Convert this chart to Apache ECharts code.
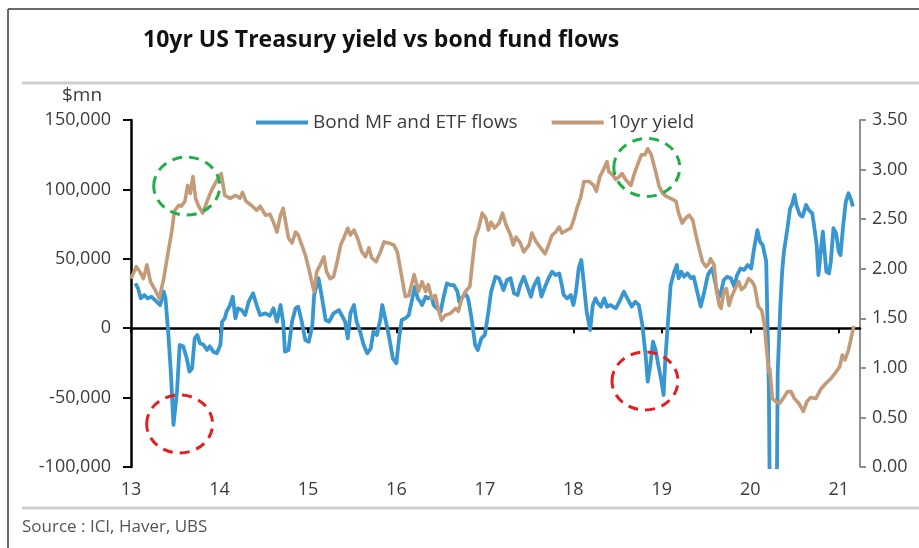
<!DOCTYPE html>
<html>
<head>
<meta charset="utf-8">
<script src="https://cdn.jsdelivr.net/npm/echarts@6/dist/echarts.min.js"></script>
<style>
  html, body { margin: 0; padding: 0; background: #ffffff; }
  #chart { width: 919px; height: 548px; }
</style>
</head>
<body>
<div id="chart"></div>
<script>
// Weekly-ish bond mutual fund + ETF flows ($mn, rolling) and the 10yr UST yield (%)
const flowDates = [
  2013.05, 2013.08, 2013.11, 2013.15, 2013.19, 2013.23, 2013.29, 2013.33, 2013.37, 2013.39,
  2013.42, 2013.45, 2013.48, 2013.52, 2013.55, 2013.59, 2013.63, 2013.66, 2013.69, 2013.72,
  2013.75, 2013.78, 2013.82, 2013.86, 2013.89, 2013.93, 2013.97, 2014.01, 2014.03, 2014.06,
  2014.08, 2014.12, 2014.15, 2014.18, 2014.21, 2014.25, 2014.29, 2014.33, 2014.38, 2014.42,
  2014.46, 2014.52, 2014.57, 2014.61, 2014.65, 2014.69, 2014.72, 2014.74, 2014.78, 2014.82,
  2014.86, 2014.89, 2014.93, 2014.97, 2015.01, 2015.05, 2015.07, 2015.12, 2015.16, 2015.20,
  2015.24, 2015.29, 2015.35, 2015.38, 2015.42, 2015.45, 2015.48, 2015.52, 2015.55, 2015.59,
  2015.63, 2015.67, 2015.71, 2015.74, 2015.78, 2015.82, 2015.84, 2015.89, 2015.92, 2015.96,
  2016.00, 2016.03, 2016.06, 2016.10, 2016.14, 2016.18, 2016.21, 2016.24, 2016.27, 2016.29,
  2016.33, 2016.36, 2016.40, 2016.42, 2016.46, 2016.50, 2016.53, 2016.57, 2016.61, 2016.65,
  2016.69, 2016.71, 2016.75, 2016.78, 2016.81, 2016.84, 2016.86, 2016.89, 2016.92, 2016.96,
  2017.00, 2017.04, 2017.07, 2017.12, 2017.16, 2017.19, 2017.21, 2017.25, 2017.29, 2017.33,
  2017.37, 2017.40, 2017.44, 2017.48, 2017.52, 2017.55, 2017.60, 2017.64, 2017.68, 2017.72,
  2017.76, 2017.80, 2017.84, 2017.87, 2017.89, 2017.93, 2017.97, 2018.00, 2018.03, 2018.06,
  2018.09, 2018.12, 2018.15, 2018.19, 2018.22, 2018.25, 2018.28, 2018.31, 2018.35, 2018.38,
  2018.42, 2018.48, 2018.52, 2018.57, 2018.61, 2018.66, 2018.70, 2018.74, 2018.78, 2018.82,
  2018.84, 2018.87, 2018.90, 2018.93, 2018.96, 2018.99, 2019.02, 2019.04, 2019.07, 2019.10,
  2019.14, 2019.17, 2019.19, 2019.22, 2019.25, 2019.29, 2019.33, 2019.36, 2019.40, 2019.44,
  2019.48, 2019.52, 2019.55, 2019.57, 2019.61, 2019.64, 2019.67, 2019.70, 2019.74, 2019.78,
  2019.82, 2019.85, 2019.89, 2019.93, 2019.97, 2020.01, 2020.04, 2020.08, 2020.11, 2020.14,
  2020.18, 2020.19, 2020.21, 2020.23, 2020.29, 2020.31, 2020.34, 2020.36, 2020.38, 2020.42,
  2020.45, 2020.47, 2020.50, 2020.52, 2020.56, 2020.59, 2020.63, 2020.66, 2020.70, 2020.72,
  2020.75, 2020.77, 2020.80, 2020.82, 2020.86, 2020.89, 2020.91, 2020.94, 2020.97, 2021.00,
  2021.02, 2021.05, 2021.08, 2021.11, 2021.14, 2021.16
];
const flowValues = [
  32300, 28700, 21500, 23900, 21500, 22700, 19100, 16700, 26300, 21500,
  -2500, -31300, -69700, -45700, -12100, -13000, -21700, -31300, -29000, -7300,
  -4900, -10900, -12000, -15700, -13000, -16900, -18000, -12100, 4700, 7100,
  11900, 16700, 22700, 7100, 14300, 13100, 9500, 19100, 25100, 16700,
  9500, 10700, 9000, 14300, 4700, 16700, 4700, -16900, -15700, 4700,
  14300, 15500, 4700, -8500, -9700, 2300, 23900, 36000, 21500, 5900,
  4700, 10700, 13100, 9500, 4700, -7300, 10700, 16700, 4700, -2500,
  -12100, -18100, -14500, -2500, -4900, 7100, 16700, 2300, -7300, -21700,
  -25300, -7300, 5900, 7100, 9500, 21500, 29900, 21500, 19100, 16700,
  22700, 21500, 22700, 16700, 14300, 11900, 21500, 32300, 31100, 31100,
  26300, 19100, 22700, 25100, 21500, 10700, 2300, -12100, -15700, -7300,
  -4900, 11900, 26300, 37100, 36000, 31100, 27500, 34700, 36000, 25100,
  23900, 31100, 37100, 29900, 22700, 29900, 36000, 22700, 29900, 36000,
  40700, 38300, 39500, 31100, 24000, 21500, 23900, 16700, 26300, 43100,
  49100, 31100, 11900, -1300, 16700, 21500, 17900, 15500, 21500, 15500,
  16700, 14300, 19100, 26300, 21500, 15500, 19100, 16700, 2300, -21700,
  -38500, -26500, -9700, -15700, -26500, -36100, -48100, -21700, 4700, 31100,
  40700, 45500, 36000, 40700, 37100, 39500, 36000, 37100, 26300, 15500,
  26300, 38300, 41500, 43100, 31100, 21500, 26300, 34700, 37100, 36000,
  29900, 38300, 43100, 42000, 45500, 43100, 56300, 70700, 62300, 60000,
  47900, 16700, -43300, -200000, -200000, -31300, 16700, 40700, 55100, 72000,
  86400, 88800, 96000, 88800, 81600, 80400, 88800, 85200, 82800, 74400,
  60000, 38300, 57500, 69500, 40700, 39500, 47900, 72000, 68300, 55100,
  52700, 74400, 91200, 97200, 92400, 87600
];

const yieldDates = [
  2013.00, 2013.06, 2013.10, 2013.14, 2013.18, 2013.22, 2013.27, 2013.32, 2013.37, 2013.42,
  2013.46, 2013.49, 2013.54, 2013.57, 2013.61, 2013.64, 2013.67, 2013.70, 2013.73, 2013.76,
  2013.81, 2013.86, 2013.91, 2013.97, 2014.02, 2014.06, 2014.12, 2014.18, 2014.23, 2014.26,
  2014.30, 2014.36, 2014.42, 2014.46, 2014.52, 2014.57, 2014.61, 2014.65, 2014.69, 2014.72,
  2014.74, 2014.78, 2014.82, 2014.86, 2014.89, 2014.93, 2014.97, 2015.01, 2015.05, 2015.07,
  2015.10, 2015.14, 2015.18, 2015.21, 2015.25, 2015.29, 2015.33, 2015.37, 2015.41, 2015.45,
  2015.48, 2015.52, 2015.56, 2015.61, 2015.65, 2015.69, 2015.72, 2015.77, 2015.82, 2015.86,
  2015.91, 2015.97, 2016.01, 2016.05, 2016.10, 2016.14, 2016.18, 2016.20, 2016.23, 2016.25,
  2016.29, 2016.33, 2016.36, 2016.40, 2016.44, 2016.48, 2016.51, 2016.55, 2016.61, 2016.67,
  2016.70, 2016.74, 2016.78, 2016.83, 2016.86, 2016.89, 2016.93, 2016.97, 2017.01, 2017.04,
  2017.07, 2017.11, 2017.16, 2017.20, 2017.24, 2017.29, 2017.32, 2017.35, 2017.40, 2017.44,
  2017.50, 2017.53, 2017.58, 2017.63, 2017.68, 2017.72, 2017.76, 2017.80, 2017.84, 2017.87,
  2017.91, 2017.97, 2018.01, 2018.04, 2018.08, 2018.12, 2018.18, 2018.23, 2018.26, 2018.30,
  2018.34, 2018.38, 2018.40, 2018.44, 2018.48, 2018.52, 2018.55, 2018.59, 2018.65, 2018.69,
  2018.73, 2018.77, 2018.81, 2018.84, 2018.88, 2018.93, 2018.97, 2019.01, 2019.05, 2019.10,
  2019.16, 2019.19, 2019.23, 2019.27, 2019.31, 2019.35, 2019.38, 2019.42, 2019.46, 2019.50,
  2019.53, 2019.55, 2019.59, 2019.62, 2019.65, 2019.67, 2019.70, 2019.73, 2019.76, 2019.79,
  2019.83, 2019.87, 2019.90, 2019.94, 2019.98, 2020.02, 2020.05, 2020.09, 2020.13, 2020.16,
  2020.18, 2020.21, 2020.22, 2020.25, 2020.29, 2020.33, 2020.37, 2020.42, 2020.46, 2020.50,
  2020.55, 2020.60, 2020.64, 2020.68, 2020.74, 2020.80, 2020.85, 2020.91, 2020.97, 2021.01,
  2021.04, 2021.07, 2021.11, 2021.14, 2021.17
];
const yieldValues = [
  1.90, 2.02, 1.97, 1.90, 2.04, 1.87, 1.79, 1.70, 1.90, 2.17,
  2.37, 2.58, 2.64, 2.63, 2.68, 2.84, 2.76, 2.93, 2.71, 2.64,
  2.56, 2.68, 2.79, 2.89, 2.96, 2.74, 2.71, 2.74, 2.71, 2.77,
  2.68, 2.64, 2.59, 2.63, 2.54, 2.55, 2.47, 2.37, 2.54, 2.61,
  2.51, 2.31, 2.26, 2.37, 2.34, 2.24, 2.14, 2.00, 1.84, 1.77,
  1.97, 2.04, 2.12, 1.97, 1.90, 1.92, 2.07, 2.24, 2.32, 2.41,
  2.34, 2.39, 2.31, 2.17, 2.12, 2.21, 2.11, 2.07, 2.17, 2.27,
  2.26, 2.24, 2.17, 1.97, 1.72, 1.73, 1.87, 1.94, 1.84, 1.77,
  1.87, 1.77, 1.84, 1.70, 1.73, 1.57, 1.48, 1.53, 1.55, 1.60,
  1.57, 1.70, 1.77, 1.82, 2.07, 2.31, 2.41, 2.56, 2.51, 2.39,
  2.47, 2.41, 2.46, 2.56, 2.44, 2.34, 2.24, 2.32, 2.26, 2.17,
  2.24, 2.36, 2.27, 2.21, 2.15, 2.24, 2.34, 2.37, 2.42, 2.36,
  2.38, 2.41, 2.51, 2.61, 2.71, 2.88, 2.88, 2.84, 2.78, 2.93,
  3.00, 3.08, 2.98, 2.95, 2.90, 2.93, 2.96, 2.90, 2.84, 2.96,
  3.06, 3.15, 3.15, 3.21, 3.15, 2.98, 2.83, 2.76, 2.73, 2.71,
  2.68, 2.56, 2.46, 2.51, 2.54, 2.49, 2.36, 2.21, 2.07, 2.02,
  2.05, 2.10, 2.04, 1.77, 1.63, 1.60, 1.77, 1.80, 1.63, 1.72,
  1.80, 1.87, 1.79, 1.82, 1.90, 1.87, 1.82, 1.62, 1.58, 1.43,
  1.23, 0.96, 0.99, 0.69, 0.66, 0.64, 0.69, 0.76, 0.76, 0.69,
  0.64, 0.56, 0.66, 0.70, 0.69, 0.79, 0.84, 0.89, 0.96, 1.01,
  1.13, 1.08, 1.18, 1.30, 1.42
];

// Year tick labels (two-digit years)
const yearLabels = ['13', '14', '15', '16', '17', '18', '19', '20', '21'];
const yearTicks = yearLabels.map((_, i) => 2013 + i);

// Highlighted episodes (year, $mn on the flows axis)
const greenRings = [[2013.63, 102400], [2018.83, 115800]];
const redRings = [[2013.55, -69000], [2018.81, -38000]];

const FONT = '"Open Sans", "Noto Sans", sans-serif';
const TEXT = '#3c3c3c';
const BLUE = '#3896d0';
const TAN = '#c39b79';

const chart = echarts.init(document.getElementById('chart'), null, { renderer: 'canvas' });

const option = {
  backgroundColor: '#ffffff',
  animation: false,
  textStyle: { fontFamily: FONT },
  title: {
    text: '10yr US Treasury yield vs bond fund flows',
    left: 138,
    top: 24,
    textStyle: { fontFamily: FONT, fontSize: 23, fontWeight: 'bold', color: '#111111' }
  },
  legend: {
    left: 251,
    top: 108,
    icon: 'rect',
    itemWidth: 52,
    itemHeight: 4,
    itemGap: 34,
    textStyle: { fontFamily: FONT, fontSize: 19, color: TEXT },
    data: ['Bond MF and ETF flows', '10yr yield']
  },
  grid: { left: 131, right: 59, top: 120, bottom: 81, containLabel: false },
  xAxis: [
    {
      type: 'value',
      min: 2013,
      max: 2021.24,
      splitLine: { show: false },
      axisLine: { show: true, onZero: true, onZeroAxisIndex: 0, lineStyle: { color: '#000000', width: 2.5 } },
      axisTick: { show: true, length: 5, inside: false, customValues: yearTicks, lineStyle: { color: '#000000', width: 2 } },
      axisLabel: { show: false }
    },
    {
      type: 'value',
      min: 2013,
      max: 2021.24,
      position: 'bottom',
      splitLine: { show: false },
      axisLine: { show: false, onZero: false },
      axisTick: { show: false },
      axisLabel: {
        show: true,
        customValues: yearTicks,
        margin: 14,
        fontFamily: FONT,
        fontSize: 18,
        color: TEXT,
        formatter: v => yearLabels[Math.round(v) - 2013]
      }
    }
  ],
  yAxis: [
    {
      type: 'value',
      min: -100000,
      max: 150000,
      interval: 50000,
      position: 'left',
      splitLine: { show: false },
      axisLine: { show: true, onZero: false, lineStyle: { color: '#000000', width: 2.5 } },
      axisTick: { show: true, length: 8, lineStyle: { color: '#000000', width: 2 } },
      axisLabel: {
        margin: 20,
        fontFamily: FONT,
        fontSize: 18,
        color: TEXT,
        formatter: v => v.toLocaleString('en-US')
      }
    },
    {
      type: 'value',
      min: 0,
      max: 3.5,
      interval: 0.5,
      position: 'right',
      splitLine: { show: false },
      axisLine: { show: true, onZero: false, lineStyle: { color: '#8f8f8f', width: 2 } },
      axisTick: { show: true, length: 6, lineStyle: { color: '#8f8f8f', width: 2 } },
      axisLabel: {
        margin: 12,
        fontFamily: FONT,
        fontSize: 18,
        color: TEXT,
        formatter: v => v.toFixed(2)
      }
    }
  ],
  series: [
    {
      name: 'Bond MF and ETF flows',
      type: 'line',
      xAxisIndex: 0,
      yAxisIndex: 0,
      showSymbol: false,
      clip: true,
      color: BLUE,
      lineStyle: { color: BLUE, width: 3.8, join: 'round' },
      data: flowDates.map((d, i) => [d, flowValues[i]])
    },
    {
      name: '10yr yield',
      type: 'line',
      xAxisIndex: 0,
      yAxisIndex: 1,
      showSymbol: false,
      clip: true,
      color: TAN,
      lineStyle: { color: TAN, width: 3.6, join: 'round' },
      data: yieldDates.map((d, i) => [d, yieldValues[i]])
    }
  ],
  graphic: [
    // outer frame (top and left edges)
    { type: 'line', shape: { x1: 8, y1: 9, x2: 919, y2: 9 }, style: { stroke: '#3a3a3a', lineWidth: 1.5 } },
    { type: 'line', shape: { x1: 8, y1: 9, x2: 8, y2: 548 }, style: { stroke: '#3a3a3a', lineWidth: 1.5 } },
    // grey rules above and below the plot
    { type: 'line', shape: { x1: 22, y1: 83, x2: 919, y2: 83 }, style: { stroke: '#cfcfcf', lineWidth: 3 } },
    { type: 'line', shape: { x1: 22, y1: 508, x2: 919, y2: 508 }, style: { stroke: '#cfcfcf', lineWidth: 3 } },
    // unit label for the left axis
    { type: 'text', left: 62, top: 86, style: { text: '$mn', font: '19px ' + FONT, fill: TEXT } },
    // source note
    { type: 'text', left: 22, top: 519, style: { text: 'Source : ICI, Haver, UBS', font: '17px ' + FONT, fill: '#555555' } }
  ]
};

chart.setOption(option);

// dashed rings around the highlighted episodes, placed through the axes
function ring(id, pt, color) {
  const p = chart.convertToPixel({ xAxisIndex: 0, yAxisIndex: 0 }, pt);
  return {
    id: id,
    type: 'ellipse',
    z: 100,
    shape: { cx: p[0], cy: p[1], rx: 33, ry: 29 },
    style: { fill: 'none', stroke: color, lineWidth: 3, lineDash: [10, 7] }
  };
}
const rings = [];
greenRings.forEach((pt, i) => rings.push(ring('g' + i, pt, '#1fae4a')));
redRings.forEach((pt, i) => rings.push(ring('r' + i, pt, '#e51f20')));
chart.setOption({ graphic: rings });
</script>
</body>
</html>
